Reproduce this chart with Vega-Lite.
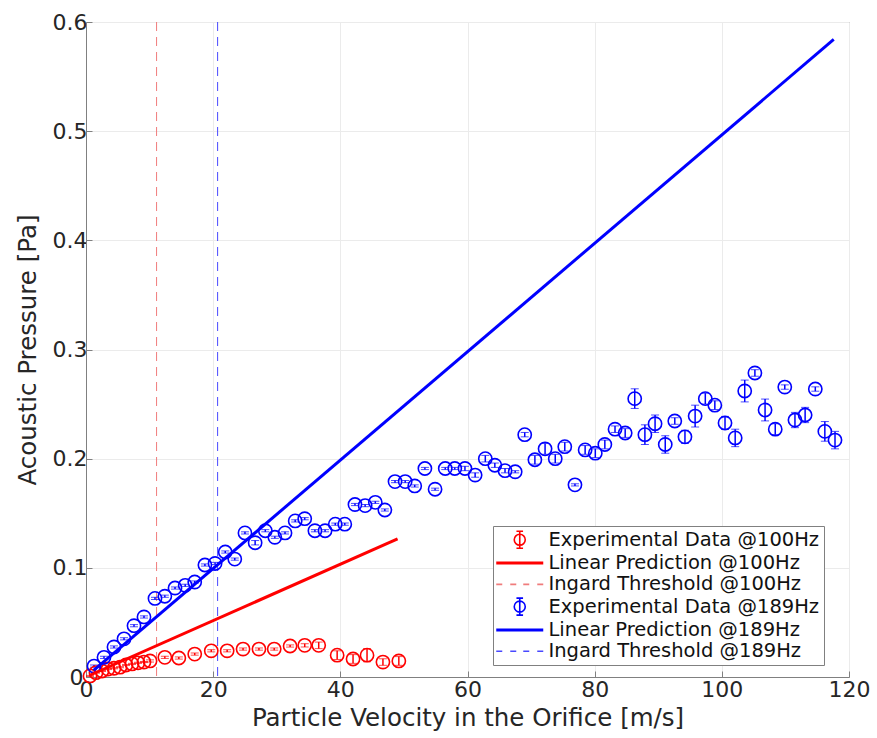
{
  "$schema": "https://vega.github.io/schema/vega-lite/v6.json",
  "width": 763,
  "height": 655,
  "autosize": "none",
  "padding": {"left": 86, "top": 22, "right": 28, "bottom": 61},
  "background": "white",
  "config": {
    "font": "DejaVu Sans",
    "view": {"stroke": "#808080", "strokeWidth": 1},
    "axis": {
      "domainColor": "#808080",
      "tickColor": "#808080",
      "gridColor": "#ebebeb",
      "gridWidth": 1,
      "labelFont": "DejaVu Sans",
      "labelFontSize": 22,
      "labelColor": "#262626",
      "labelFlush": false,
      "labelOverlap": false,
      "titleFont": "DejaVu Sans",
      "titleColor": "#262626",
      "titleFontWeight": "normal",
      "titleFontSize": 24.5,
      "tickSize": -6
    },
    "axisX": {"labelPadding": 8, "titlePadding": 6},
    "axisY": {"titlePadding": 12}
  },
  "datasets": {
    "exp": [
      {"label": "Experimental Data @100Hz", "v": 0.63, "p": 0.001, "e": 0.0005},
      {"label": "Experimental Data @100Hz", "v": 1.57, "p": 0.004, "e": 0.0005},
      {"label": "Experimental Data @100Hz", "v": 2.52, "p": 0.0055, "e": 0.0005},
      {"label": "Experimental Data @100Hz", "v": 3.46, "p": 0.0073, "e": 0.0005},
      {"label": "Experimental Data @100Hz", "v": 4.40, "p": 0.008, "e": 0.0005},
      {"label": "Experimental Data @100Hz", "v": 5.35, "p": 0.009, "e": 0.0005},
      {"label": "Experimental Data @100Hz", "v": 6.29, "p": 0.011, "e": 0.0005},
      {"label": "Experimental Data @100Hz", "v": 7.23, "p": 0.012, "e": 0.0005},
      {"label": "Experimental Data @100Hz", "v": 8.18, "p": 0.013, "e": 0.0005},
      {"label": "Experimental Data @100Hz", "v": 9.12, "p": 0.0137, "e": 0.0005},
      {"label": "Experimental Data @100Hz", "v": 10.07, "p": 0.0147, "e": 0.001},
      {"label": "Experimental Data @100Hz", "v": 12.4, "p": 0.018, "e": 0.001},
      {"label": "Experimental Data @100Hz", "v": 14.6, "p": 0.0174, "e": 0.001},
      {"label": "Experimental Data @100Hz", "v": 17.1, "p": 0.021, "e": 0.001},
      {"label": "Experimental Data @100Hz", "v": 19.7, "p": 0.024, "e": 0.001},
      {"label": "Experimental Data @100Hz", "v": 22.2, "p": 0.024, "e": 0.001},
      {"label": "Experimental Data @100Hz", "v": 24.7, "p": 0.0256, "e": 0.001},
      {"label": "Experimental Data @100Hz", "v": 27.2, "p": 0.0256, "e": 0.001},
      {"label": "Experimental Data @100Hz", "v": 29.6, "p": 0.0256, "e": 0.001},
      {"label": "Experimental Data @100Hz", "v": 32.1, "p": 0.0284, "e": 0.001},
      {"label": "Experimental Data @100Hz", "v": 34.4, "p": 0.029, "e": 0.0015},
      {"label": "Experimental Data @100Hz", "v": 36.6, "p": 0.029, "e": 0.003},
      {"label": "Experimental Data @100Hz", "v": 39.5, "p": 0.020, "e": 0.004},
      {"label": "Experimental Data @100Hz", "v": 42.0, "p": 0.0165, "e": 0.004},
      {"label": "Experimental Data @100Hz", "v": 44.2, "p": 0.020, "e": 0.006},
      {"label": "Experimental Data @100Hz", "v": 46.7, "p": 0.0137, "e": 0.003},
      {"label": "Experimental Data @100Hz", "v": 49.2, "p": 0.0147, "e": 0.004},
      {"label": "Experimental Data @189Hz", "v": 1.26, "p": 0.010, "e": 0.001},
      {"label": "Experimental Data @189Hz", "v": 2.83, "p": 0.018, "e": 0.001},
      {"label": "Experimental Data @189Hz", "v": 4.40, "p": 0.0275, "e": 0.001},
      {"label": "Experimental Data @189Hz", "v": 5.98, "p": 0.035, "e": 0.001},
      {"label": "Experimental Data @189Hz", "v": 7.55, "p": 0.047, "e": 0.001},
      {"label": "Experimental Data @189Hz", "v": 9.12, "p": 0.055, "e": 0.001},
      {"label": "Experimental Data @189Hz", "v": 10.85, "p": 0.072, "e": 0.001},
      {"label": "Experimental Data @189Hz", "v": 12.4, "p": 0.074, "e": 0.001},
      {"label": "Experimental Data @189Hz", "v": 14.0, "p": 0.0815, "e": 0.001},
      {"label": "Experimental Data @189Hz", "v": 15.6, "p": 0.084, "e": 0.001},
      {"label": "Experimental Data @189Hz", "v": 17.1, "p": 0.087, "e": 0.001},
      {"label": "Experimental Data @189Hz", "v": 18.7, "p": 0.1026, "e": 0.001},
      {"label": "Experimental Data @189Hz", "v": 20.3, "p": 0.104, "e": 0.001},
      {"label": "Experimental Data @189Hz", "v": 21.9, "p": 0.1145, "e": 0.001},
      {"label": "Experimental Data @189Hz", "v": 23.4, "p": 0.108, "e": 0.001},
      {"label": "Experimental Data @189Hz", "v": 25.0, "p": 0.132, "e": 0.001},
      {"label": "Experimental Data @189Hz", "v": 26.6, "p": 0.123, "e": 0.002},
      {"label": "Experimental Data @189Hz", "v": 28.2, "p": 0.134, "e": 0.001},
      {"label": "Experimental Data @189Hz", "v": 29.7, "p": 0.128, "e": 0.001},
      {"label": "Experimental Data @189Hz", "v": 31.3, "p": 0.132, "e": 0.001},
      {"label": "Experimental Data @189Hz", "v": 32.9, "p": 0.143, "e": 0.001},
      {"label": "Experimental Data @189Hz", "v": 34.4, "p": 0.145, "e": 0.001},
      {"label": "Experimental Data @189Hz", "v": 36.0, "p": 0.134, "e": 0.001},
      {"label": "Experimental Data @189Hz", "v": 37.6, "p": 0.134, "e": 0.001},
      {"label": "Experimental Data @189Hz", "v": 39.2, "p": 0.140, "e": 0.001},
      {"label": "Experimental Data @189Hz", "v": 40.7, "p": 0.140, "e": 0.001},
      {"label": "Experimental Data @189Hz", "v": 42.3, "p": 0.158, "e": 0.001},
      {"label": "Experimental Data @189Hz", "v": 43.9, "p": 0.157, "e": 0.001},
      {"label": "Experimental Data @189Hz", "v": 45.5, "p": 0.160, "e": 0.001},
      {"label": "Experimental Data @189Hz", "v": 47.0, "p": 0.153, "e": 0.001},
      {"label": "Experimental Data @189Hz", "v": 48.6, "p": 0.179, "e": 0.001},
      {"label": "Experimental Data @189Hz", "v": 50.2, "p": 0.179, "e": 0.001},
      {"label": "Experimental Data @189Hz", "v": 51.7, "p": 0.175, "e": 0.001},
      {"label": "Experimental Data @189Hz", "v": 53.3, "p": 0.191, "e": 0.001},
      {"label": "Experimental Data @189Hz", "v": 54.9, "p": 0.172, "e": 0.001},
      {"label": "Experimental Data @189Hz", "v": 56.5, "p": 0.191, "e": 0.001},
      {"label": "Experimental Data @189Hz", "v": 58.0, "p": 0.191, "e": 0.001},
      {"label": "Experimental Data @189Hz", "v": 59.6, "p": 0.191, "e": 0.002},
      {"label": "Experimental Data @189Hz", "v": 61.2, "p": 0.185, "e": 0.002},
      {"label": "Experimental Data @189Hz", "v": 62.8, "p": 0.200, "e": 0.003},
      {"label": "Experimental Data @189Hz", "v": 64.3, "p": 0.194, "e": 0.002},
      {"label": "Experimental Data @189Hz", "v": 65.9, "p": 0.189, "e": 0.002},
      {"label": "Experimental Data @189Hz", "v": 67.5, "p": 0.188, "e": 0.001},
      {"label": "Experimental Data @189Hz", "v": 69.0, "p": 0.222, "e": 0.002},
      {"label": "Experimental Data @189Hz", "v": 70.6, "p": 0.199, "e": 0.004},
      {"label": "Experimental Data @189Hz", "v": 72.2, "p": 0.209, "e": 0.005},
      {"label": "Experimental Data @189Hz", "v": 73.8, "p": 0.200, "e": 0.004},
      {"label": "Experimental Data @189Hz", "v": 75.3, "p": 0.211, "e": 0.004},
      {"label": "Experimental Data @189Hz", "v": 76.9, "p": 0.176, "e": 0.001},
      {"label": "Experimental Data @189Hz", "v": 78.5, "p": 0.208, "e": 0.004},
      {"label": "Experimental Data @189Hz", "v": 80.1, "p": 0.205, "e": 0.004},
      {"label": "Experimental Data @189Hz", "v": 81.6, "p": 0.213, "e": 0.004},
      {"label": "Experimental Data @189Hz", "v": 83.2, "p": 0.227, "e": 0.003},
      {"label": "Experimental Data @189Hz", "v": 84.8, "p": 0.2235, "e": 0.004},
      {"label": "Experimental Data @189Hz", "v": 86.3, "p": 0.255, "e": 0.009},
      {"label": "Experimental Data @189Hz", "v": 87.9, "p": 0.222, "e": 0.009},
      {"label": "Experimental Data @189Hz", "v": 89.5, "p": 0.232, "e": 0.008},
      {"label": "Experimental Data @189Hz", "v": 91.1, "p": 0.213, "e": 0.008},
      {"label": "Experimental Data @189Hz", "v": 92.6, "p": 0.2345, "e": 0.003},
      {"label": "Experimental Data @189Hz", "v": 94.2, "p": 0.220, "e": 0.006},
      {"label": "Experimental Data @189Hz", "v": 95.8, "p": 0.239, "e": 0.010},
      {"label": "Experimental Data @189Hz", "v": 97.4, "p": 0.255, "e": 0.005},
      {"label": "Experimental Data @189Hz", "v": 98.9, "p": 0.249, "e": 0.004},
      {"label": "Experimental Data @189Hz", "v": 100.5, "p": 0.2327, "e": 0.006},
      {"label": "Experimental Data @189Hz", "v": 102.1, "p": 0.219, "e": 0.008},
      {"label": "Experimental Data @189Hz", "v": 103.6, "p": 0.262, "e": 0.010},
      {"label": "Experimental Data @189Hz", "v": 105.2, "p": 0.2785, "e": 0.003},
      {"label": "Experimental Data @189Hz", "v": 106.8, "p": 0.2446, "e": 0.010},
      {"label": "Experimental Data @189Hz", "v": 108.4, "p": 0.227, "e": 0.005},
      {"label": "Experimental Data @189Hz", "v": 109.9, "p": 0.2656, "e": 0.002},
      {"label": "Experimental Data @189Hz", "v": 111.5, "p": 0.2354, "e": 0.007},
      {"label": "Experimental Data @189Hz", "v": 113.1, "p": 0.240, "e": 0.007},
      {"label": "Experimental Data @189Hz", "v": 114.7, "p": 0.2638, "e": 0.002},
      {"label": "Experimental Data @189Hz", "v": 116.2, "p": 0.225, "e": 0.009},
      {"label": "Experimental Data @189Hz", "v": 117.8, "p": 0.217, "e": 0.008}
    ],
    "pred": [
      {"label": "Linear Prediction @100Hz", "v": 0.6, "p": 0.0016},
      {"label": "Linear Prediction @100Hz", "v": 49.0, "p": 0.1265},
      {"label": "Linear Prediction @189Hz", "v": 1.2, "p": 0.006},
      {"label": "Linear Prediction @189Hz", "v": 117.6, "p": 0.584}
    ],
    "thr": [
      {"label": "Ingard Threshold @100Hz", "v": 11.1},
      {"label": "Ingard Threshold @189Hz", "v": 20.7}
    ]
  },
  "encoding": {
    "color": {
      "field": "label",
      "type": "nominal",
      "scale": {
        "domain": ["Experimental Data @100Hz", "Linear Prediction @100Hz", "Ingard Threshold @100Hz", "Experimental Data @189Hz", "Linear Prediction @189Hz", "Ingard Threshold @189Hz"],
        "range": ["#ff0000", "#ff0000", "#f07c7c", "#0000ff", "#0000ff", "#4848ff"]
      },
      "legend": {
        "title": null,
        "orient": "none",
        "legendX": 407,
        "legendY": 504,
        "direction": "vertical",
        "fillColor": "white",
        "strokeColor": "#808080",
        "padding": 4,
        "labelFont": "DejaVu Sans",
        "labelFontSize": 19.5,
        "labelColor": "#111111",
        "labelLimit": 500,
        "symbolSize": 400,
        "symbolStrokeWidth": 2,
        "symbolFillColor": "transparent",
        "symbolOffset": 13,
        "labelOffset": 19,
        "rowPadding": 0.3,
        "symbolOpacity": 1,
        "encode": {
          "symbols": {
            "update": {
              "fill": {"value": "transparent"},
              "fillOpacity": {"value": 0},
              "strokeOpacity": {"value": 1},
              "strokeWidth": {"signal": "indexof(['Linear Prediction @100Hz','Linear Prediction @189Hz'], datum.value) >= 0 ? 3 : 1.6"}
            }
          }
        }
      }
    }
  },
  "layer": [
    {
      "data": {"values": []},
      "mark": {"type": "point", "filled": false, "opacity": 1},
      "encoding": {
        "shape": {
          "field": "label",
          "type": "nominal",
          "scale": {
            "domain": ["Experimental Data @100Hz", "Linear Prediction @100Hz", "Ingard Threshold @100Hz", "Experimental Data @189Hz", "Linear Prediction @189Hz", "Ingard Threshold @189Hz"],
            "range": [
              "M-0.55,0A0.55,0.55,0,1,1,0.55,0A0.55,0.55,0,1,1,-0.55,0M0,-0.85V0.85M-0.33,-0.85H0.33M-0.33,0.85H0.33",
              "M-2.35,0H2.35",
              "M-2.35,0H-1.75M-0.95,0H-0.35M0.35,0H0.95M1.75,0H2.35",
              "M-0.55,0A0.55,0.55,0,1,1,0.55,0A0.55,0.55,0,1,1,-0.55,0M0,-0.85V0.85M-0.33,-0.85H0.33M-0.33,0.85H0.33",
              "M-2.35,0H2.35",
              "M-2.35,0H-1.75M-0.95,0H-0.35M0.35,0H0.95M1.75,0H2.35"
            ]
          }
        }
      }
    },
    {
      "data": {"name": "thr"},
      "mark": {"type": "rule", "strokeWidth": 1, "strokeDash": [9, 6]},
      "encoding": {
        "x": {"field": "v", "type": "quantitative", "title": "Particle Velocity in the Orifice [m/s]", "scale": {"domain": [0, 120], "nice": false}}
      }
    },
    {
      "data": {"name": "exp"},
      "mark": {"type": "errorbar", "ticks": {"size": 8, "strokeWidth": 1.5}, "rule": {"strokeWidth": 1.5}},
      "encoding": {
        "x": {"field": "v", "type": "quantitative", "title": "Particle Velocity in the Orifice [m/s]"},
        "y": {"field": "p", "type": "quantitative", "title": "Acoustic Pressure [Pa]"},
        "yError": {"field": "e"},
        "color": {
          "field": "label",
          "type": "nominal",
          "scale": {
            "domain": ["Experimental Data @100Hz", "Linear Prediction @100Hz", "Ingard Threshold @100Hz", "Experimental Data @189Hz", "Linear Prediction @189Hz", "Ingard Threshold @189Hz"],
            "range": ["#ff0000", "#ff0000", "#f07c7c", "#0000ff", "#0000ff", "#4848ff"]
          },
          "legend": null
        }
      }
    },
    {
      "data": {"name": "exp"},
      "mark": {"type": "point", "shape": "circle", "filled": false, "size": 175, "strokeWidth": 1.6, "opacity": 1},
      "encoding": {
        "x": {
          "field": "v", "type": "quantitative",
          "title": "Particle Velocity in the Orifice [m/s]",
          "scale": {"domain": [0, 120], "nice": false},
          "axis": {"values": [0, 20, 40, 60, 80, 100, 120], "grid": true}
        },
        "y": {
          "field": "p", "type": "quantitative",
          "title": "Acoustic Pressure [Pa]",
          "scale": {"domain": [0, 0.6], "nice": false, "zero": true},
          "axis": {
            "values": [0, 0.1, 0.2, 0.3, 0.4, 0.5, 0.6],
            "format": "~g",
            "grid": true,
            "labelPadding": {"condition": {"test": "datum.value === 0", "value": 9}, "value": 5}
          }
        }
      }
    },
    {
      "data": {"name": "pred"},
      "mark": {"type": "line", "strokeWidth": 3},
      "encoding": {
        "x": {"field": "v", "type": "quantitative", "title": "Particle Velocity in the Orifice [m/s]"},
        "y": {"field": "p", "type": "quantitative", "title": "Acoustic Pressure [Pa]"}
      }
    }
  ]
}
